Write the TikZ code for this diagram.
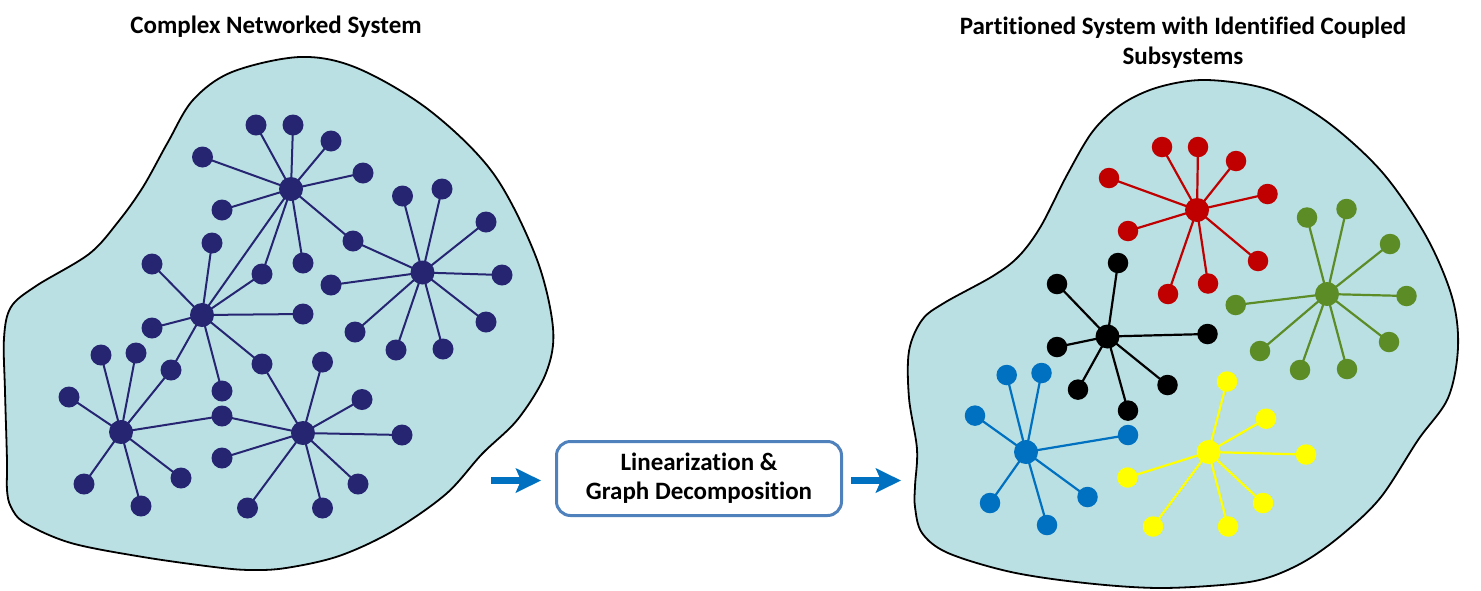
\documentclass[tikz,border=0pt]{standalone}
\usepackage{fontspec}
\setmainfont{Carlito}[Ligatures=NoCommon]
\usetikzlibrary{arrows.meta}
\pgfdeclarelayer{bg}
\pgfdeclarelayer{mid}
\pgfsetlayers{bg,mid,main}
\definecolor{navy}{RGB}{38,37,114}
\definecolor{blobfill}{RGB}{186,224,227}
\definecolor{cred}{RGB}{192,0,0}
\definecolor{cgreen}{RGB}{92,140,38}
\definecolor{cblue}{RGB}{0,112,192}
\definecolor{cyell}{RGB}{255,255,0}
\definecolor{boxline}{RGB}{79,129,189}
\begin{document}
\begin{tikzpicture}[x=1pt,y=-1pt,
  lbl/.style={font=\fontsize{25}{30}\selectfont\bfseries, inner sep=0pt},
  blob/.style={draw=black, line width=1.8pt, fill=blobfill},
  leafL/.style={circle, fill=navy, inner sep=0pt, minimum size=21pt},
  hubL/.style={circle, fill=navy, inner sep=0pt, minimum size=24pt},
  edgeL/.style={draw=navy, line width=2pt},
  leafR/.style={circle, fill=#1, inner sep=0pt, minimum size=20.5pt},
  hubR/.style={circle, fill=#1, inner sep=0pt, minimum size=24pt},
  edgeR/.style={draw=#1, line width=2.2pt},
  bigarrow/.style={draw=cblue, line width=7pt, -{Stealth[length=25pt, width=24pt, inset=5pt]}},
  procbox/.style={draw=boxline, line width=3pt, rounded corners=14pt, fill=white,
    minimum width=285pt, minimum height=74pt, align=center,
    font=\fontsize{25}{29}\selectfont\bfseries, inner sep=0pt}
]
\useasboundingbox (0,0) rectangle (1481,590);

% ---------- blobs ----------
\begin{pgfonlayer}{bg}
\draw[blob] plot[smooth cycle, tension=0.55] coordinates {
 (300,57) (357,68) (429,110) (493,173) (536,257) (553,328) (546,373) (518,419)
 (482,454) (446,494) (393,531) (339,556) (286,568) (250,570) (214,567) (143,557)
 (71,543) (25,523) (11,507) (7,490) (7,461) (5,391) (4,338) (11,307) (36,286)
 (89,254) (118,222) (143,187) (168,142) (193,100) (232,72)};
\draw[blob] plot[smooth cycle, tension=0.55] coordinates {
 (1207,80) (1270,90) (1326,121) (1382,172) (1426,236) (1452,297) (1458,347)
 (1448,398) (1418,440) (1381,497) (1344,533) (1307,560) (1270,577) (1233,584)
 (1159,588) (1085,583) (1011,572) (948,553) (922,533) (915,507) (915,486)
 (917,449) (909,398) (909,351) (922,320) (944,303) (993,276) (1019,256)
 (1041,226) (1067,175) (1093,131) (1122,104) (1159,87)};
\end{pgfonlayer}

% ---------- titles ----------
\node[lbl, anchor=base] (t1) at (276,33) {Complex Networked System};
\node[lbl, anchor=north, align=center] (t2) at (1183,16.5)
  {Partitioned System with Identified Coupled\\Subsystems};

% ---------- left network ----------
\foreach \n/\x/\y in {hA/291/189, hB/422.5/272.5, hC/202/315, hD/121/432, hE/303/433}
  \node[hubL] (\n) at (\x,\y) {};
\foreach \n/\x/\y in {
  a1/256/125, a2/293/125, a3/331/141, a4/202.5/157, a5/363/173, a6/222/210, a7/303/263,
  ab/353/241, ac/262/274, cd/171/370, ce/262/364, de/222/416,
  b1/402.5/196, b2/442/189, b3/486/222, b4/502/275, b5/486/322, b6/443/349,
  b7/396/350, b8/355/332, b9/331/285,
  c1/212/243, c2/152/264, c3/152/328, c4/303/314, c5/222/391,
  d1/101/355, d2/136/353, d3/69/397, d4/84/484, d5/141/506, d6/181/478,
  e1/322.5/362, e2/362/399.5, e3/402/435, e4/358/484, e5/322.5/508, e6/247.5/508, e7/222/458}
  \node[leafL] (\n) at (\x,\y) {};
\begin{pgfonlayer}{mid}
\foreach \n in {a1,a2,a3,a4,a5,a6,a7,ab,ac,hC} \draw[edgeL] (hA.center) -- (\n.center);
\foreach \n in {b1,b2,b3,b4,b5,b6,b7,b8,b9,ab} \draw[edgeL] (hB.center) -- (\n.center);
\foreach \n in {c1,c2,c3,c4,c5,ac,cd,ce} \draw[edgeL] (hC.center) -- (\n.center);
\foreach \n in {d1,d2,d3,d4,d5,d6,cd,de} \draw[edgeL] (hD.center) -- (\n.center);
\foreach \n in {e1,e2,e3,e4,e5,e6,e7,ce,de} \draw[edgeL] (hE.center) -- (\n.center);
\end{pgfonlayer}

% ---------- right network ----------
\node[hubR=cred] (R) at (1197,210) {};
\node[hubR=cgreen] (G) at (1327,294) {};
\node[hubR=black] (K) at (1107.5,336.5) {};
\node[hubR=cblue] (U) at (1026,452) {};
\node[hubR=cyell] (Y) at (1208.6,452) {};
\foreach \n/\x/\y in {r1/1162/147, r2/1198/147, r3/1236/161, r4/1109/178, r5/1267.5/194,
  r6/1128/231, r7/1258/261, r8/1208/283.5, r9/1168/294}
  \node[leafR=cred] (\n) at (\x,\y) {};
\foreach \n/\x/\y in {g1/1307/217.5, g2/1346.5/209, g3/1390/244, g4/1406.5/296, g5/1389/342,
  g6/1347/369, g7/1300/370, g8/1260/351, g9/1235.7/305}
  \node[leafR=cgreen] (\n) at (\x,\y) {};
\foreach \n/\x/\y in {k1/1118/263, k2/1057/284, k3/1057/347, k4/1207.5/334, k5/1078/389.6,
  k6/1128/410.6, k7/1167.5/385}
  \node[leafR=black] (\n) at (\x,\y) {};
\foreach \n/\x/\y in {u1/1006.7/375, u2/1041.5/373, u3/975/415.6, u4/990/503, u5/1047/525,
  u6/1087.5/497, u7/1128/435}
  \node[leafR=cblue] (\n) at (\x,\y) {};
\foreach \n/\x/\y in {y1/1227/381.5, y2/1266/418.7, y3/1306/454.5, y4/1263/503, y5/1228/526.5,
  y6/1153/526.5, y7/1127.5/477.5}
  \node[leafR=cyell] (\n) at (\x,\y) {};
\begin{pgfonlayer}{mid}
\foreach \n in {r1,r2,r3,r4,r5,r6,r7,r8,r9} \draw[edgeR=cred] (R.center) -- (\n.center);
\foreach \n in {g1,g2,g3,g4,g5,g6,g7,g8,g9} \draw[edgeR=cgreen] (G.center) -- (\n.center);
\foreach \n in {k1,k2,k3,k4,k5,k6,k7} \draw[edgeR=black] (K.center) -- (\n.center);
\foreach \n in {u1,u2,u3,u4,u5,u6,u7} \draw[edgeR=cblue] (U.center) -- (\n.center);
\foreach \n in {y1,y2,y3,y4,y5,y6,y7} \draw[edgeR=cyell] (Y.center) -- (\n.center);
\end{pgfonlayer}

% ---------- process box and arrows ----------
\node[procbox] (box) at (699,478.5) {Linearization \&\\Graph Decomposition};
\coordinate (la1) at (491,480.5);
\coordinate (la2) at (541,480.5);
\coordinate (ra1) at (851,480.5);
\coordinate (ra2) at (901,480.5);
\draw[bigarrow] (la1) -- (la2);
\draw[bigarrow] (ra1) -- (ra2);
\end{tikzpicture}
\end{document}
